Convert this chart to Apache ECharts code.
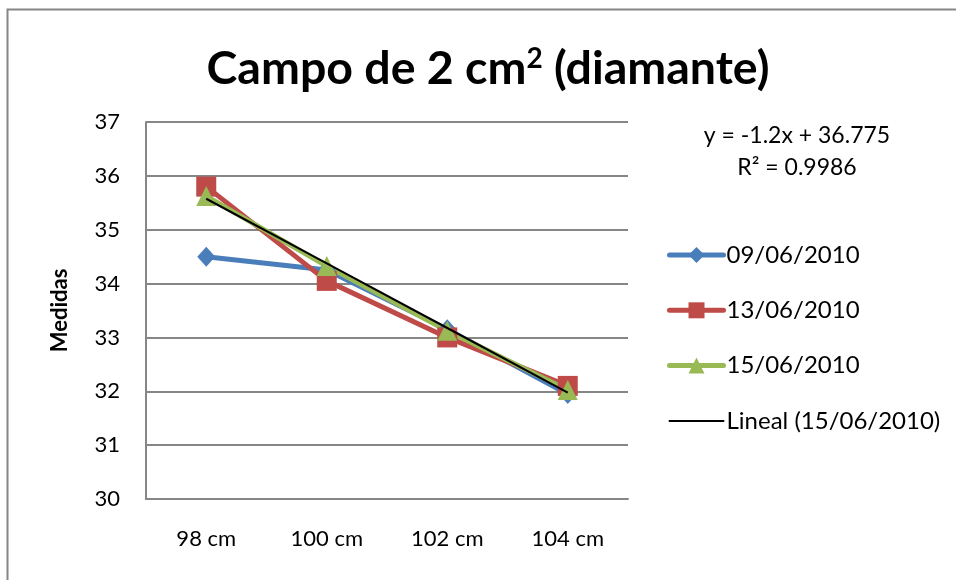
<!DOCTYPE html>
<html>
<head>
<meta charset="utf-8">
<script src="https://cdn.jsdelivr.net/npm/echarts@6/dist/echarts.min.js"></script>
<style>html,body{margin:0;padding:0;background:#fff}#c{width:956px;height:580px}</style>
</head>
<body>
<div id="c"></div>
<script>
const categories = ['98 cm', '100 cm', '102 cm', '104 cm'];
const s0906 = [34.5, 34.25, 33.15, 31.95];
const s1306 = [35.8, 34.05, 33.0, 32.1];
const s1506 = [35.625, 34.325, 33.125, 32.025];
const trend1506 = [35.575, 34.375, 33.175, 31.975];
const seriesNames = ['09/06/2010', '13/06/2010', '15/06/2010', 'Lineal (15/06/2010)'];
const yTicks = { min: 30, max: 37, interval: 1 };
const equationText = 'y = -1.2x + 36.775';
const r2Text = 'R² = 0.9986';

const FONT = 'Lato';
const chart = echarts.init(document.getElementById('c'));
const lineSeries = (name, data, color, symbol, size) => ({
  name, type: 'line', data, symbol, symbolSize: size,
  lineStyle: { color, width: 5 }, itemStyle: { color },
  showSymbol: true, animation: false
});
chart.setOption({
  animation: false,
  title: {
    text: '{a|Campo de 2 cm}{s|2}{a| (diamante)}',
    left: 483, top: 40, textAlign: 'center',
    textStyle: {
      rich: {
        a: { fontFamily: FONT, fontWeight: 'bold', fontSize: 46.5, color: '#000' },
        s: { fontFamily: FONT, fontWeight: 'bold', fontSize: 28, color: '#000', verticalAlign: 'top', padding: [0, 0, 20, 0] }
      }
    }
  },
  grid: { left: 146, right: 328, top: 122, bottom: 81 },
  xAxis: {
    type: 'category', data: categories, boundaryGap: true,
    axisLine: { lineStyle: { color: '#868686', width: 2 } },
    axisTick: { show: false },
    axisLabel: { fontFamily: FONT, fontSize: 22, color: '#000', margin: 29 }
  },
  yAxis: {
    type: 'value', min: yTicks.min, max: yTicks.max, interval: yTicks.interval,
    name: 'Medidas', nameLocation: 'middle', nameGap: 75, nameRotate: 90,
    nameTextStyle: { fontFamily: FONT, fontWeight: 'bold', fontSize: 22, color: '#000' },
    axisLine: { show: true, lineStyle: { color: '#868686', width: 2 } },
    axisTick: { show: false },
    axisLabel: { fontFamily: FONT, fontSize: 22, color: '#000', margin: 26 },
    splitLine: { lineStyle: { color: '#868686', width: 2 } }
  },
  legend: {
    orient: 'vertical', left: 662, top: 237, itemGap: 29.3,
    itemWidth: 54, itemHeight: 20,
    lineStyle: { width: 'inherit', cap: 'round' },
    textStyle: { fontFamily: FONT, fontSize: 24, lineHeight: 26, color: '#000', padding: [0, 0, 0, -2] },
    data: [
      { name: seriesNames[0] },
      { name: seriesNames[1] },
      { name: seriesNames[2] },
      { name: seriesNames[3], itemStyle: { color: 'rgba(0,0,0,0)', borderWidth: 0, opacity: 0 } }
    ]
  },
  series: [
    lineSeries(seriesNames[0], s0906, '#4A7EBB', 'diamond', [18, 20]),
    lineSeries(seriesNames[1], s1306, '#BE4B48', 'rect', 20),
    lineSeries(seriesNames[2], s1506, '#98B954', 'triangle', 20),
    {
      name: seriesNames[3], type: 'line', data: trend1506, symbol: 'none',
      lineStyle: { color: '#000', width: 2 }, itemStyle: { color: '#000' }, z: 5
    }
  ],
  graphic: [
    { type: 'rect', shape: { x: 7.5, y: 9.5, width: 1200, height: 1000 }, style: { fill: 'none', stroke: '#868686', lineWidth: 2 }, silent: true },
    { type: 'text', x: 797, y: 136, style: { text: equationText, fontFamily: FONT, fontSize: 23, fill: '#000', align: 'center', verticalAlign: 'middle' } },
    { type: 'text', x: 797, y: 168, style: { text: r2Text, fontFamily: FONT, fontSize: 23, fill: '#000', align: 'center', verticalAlign: 'middle' } }
  ]
});
</script>
</body>
</html>
